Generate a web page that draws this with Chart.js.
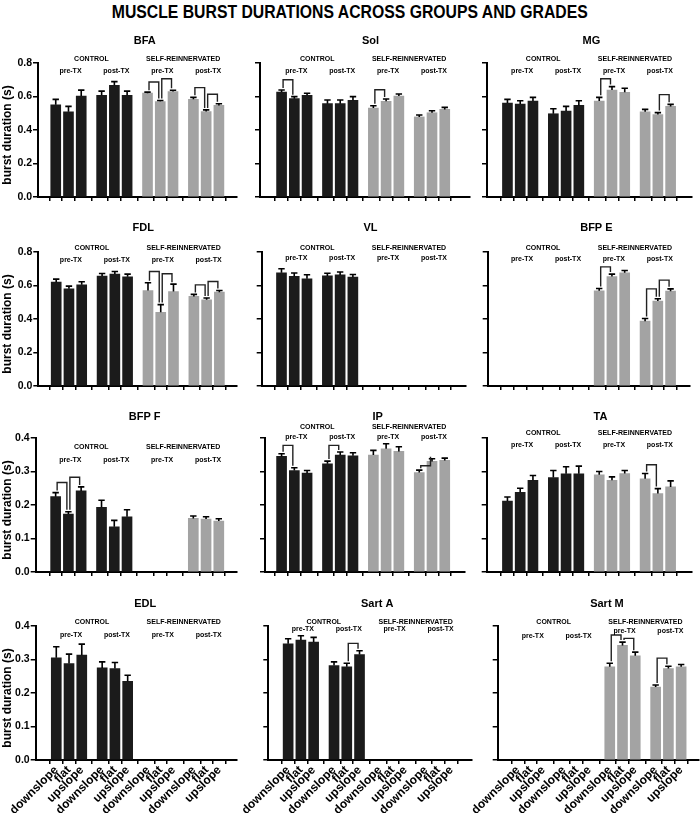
<!DOCTYPE html>
<html>
<head>
<meta charset="utf-8">
<script src="https://cdn.jsdelivr.net/npm/chart.js@4.4.1/dist/chart.umd.min.js"></script>
<style>
    body { margin: 0; background: #fff; }
    #page { position: relative; width: 700px; height: 813px; overflow: hidden; }
    #title { position: absolute; left: 0; top: 1px; width: 700px; text-align: center; line-height: 22px; }
    #titleText { display: inline-block; white-space: nowrap; font: bold 19px "Liberation Sans Narrow", "Liberation Sans", Arial, sans-serif; transform-origin: 50% 50%; }
    canvas { position: absolute; }
</style>
</head>
<body>
<div id="page">
    <div id="title"><span id="titleText">MUSCLE BURST DURATIONS ACROSS GROUPS AND GRADES</span></div>
</div>
<script>
// categories
const grades = ['downslope', 'flat', 'upslope'];
const groups = ['CONTROL', 'SELF-REINNERVATED'];
const phases = ['pre-TX', 'post-TX'];

// mean burst duration (s), order: control pre, control post, self pre, self post
const bfaMean = [0.551, 0.509, 0.603, 0.607, 0.667, 0.607, 0.62, 0.57, 0.63, 0.583, 0.51, 0.547];
const bfaSem = [0.032, 0.032, 0.035, 0.025, 0.022, 0.025, 0.006, 0.006, 0.007, 0.012, 0.01, 0.01];
const bfaSig = [[6, 7, 0.687], [7, 8, 0.706], [9, 10, 0.653], [10, 11, 0.613]];

const solMean = [0.627, 0.587, 0.607, 0.557, 0.557, 0.577, 0.531, 0.571, 0.603, 0.478, 0.503, 0.523];
const solSem = [0.012, 0.012, 0.012, 0.022, 0.022, 0.022, 0.014, 0.014, 0.012, 0.012, 0.012, 0.012];
const solSig = [[0, 1, 0.70], [6, 7, 0.64]];

const mgMean = [0.561, 0.555, 0.573, 0.497, 0.513, 0.547, 0.573, 0.639, 0.625, 0.509, 0.492, 0.541];
const mgSem = [0.022, 0.02, 0.022, 0.03, 0.028, 0.028, 0.022, 0.02, 0.024, 0.014, 0.012, 0.012];
const mgSig = [[6, 7, 0.706], [10, 11, 0.611]];

const fdlMean = [0.62, 0.58, 0.604, 0.656, 0.668, 0.652, 0.57, 0.44, 0.564, 0.535, 0.515, 0.56];
const fdlSem = [0.018, 0.016, 0.018, 0.016, 0.016, 0.016, 0.046, 0.046, 0.044, 0.012, 0.01, 0.01];
const fdlSig = [[6, 7, 0.684], [7, 8, 0.67], [9, 10, 0.604], [10, 11, 0.624]];

const vlMean = [0.676, 0.655, 0.64, 0.657, 0.663, 0.65, null, null, null, null, null, null];
const vlSem = [0.024, 0.02, 0.024, 0.016, 0.018, 0.016, null, null, null, null, null, null];
const vlSig = [];

const bfpeMean = [null, null, null, null, null, null, 0.568, 0.654, 0.676, 0.387, 0.507, 0.566];
const bfpeSem = [null, null, null, null, null, null, 0.014, 0.014, 0.014, 0.016, 0.014, 0.014];
const bfpeSig = [[6, 7, 0.711], [9, 10, 0.58], [10, 11, 0.632]];

const bfpfMean = [0.225, 0.173, 0.242, 0.193, 0.135, 0.165, null, null, null, 0.16, 0.158, 0.152];
const bfpfSem = [0.012, 0.007, 0.012, 0.021, 0.019, 0.021, null, null, null, 0.007, 0.007, 0.007];
const bfpfSig = [[0, 1, 0.267], [1, 2, 0.283]];

const ipMean = [0.345, 0.303, 0.295, 0.323, 0.349, 0.347, 0.349, 0.368, 0.36, 0.297, 0.33, 0.333];
const ipSem = [0.008, 0.008, 0.008, 0.008, 0.009, 0.009, 0.014, 0.015, 0.014, 0.007, 0.008, 0.007];
const ipSig = [[0, 1, 0.378], [3, 4, 0.378], [9, 10, 0.317]];

const taMean = [0.212, 0.238, 0.274, 0.282, 0.293, 0.293, 0.29, 0.274, 0.294, 0.278, 0.234, 0.254];
const taSem = [0.012, 0.012, 0.014, 0.021, 0.021, 0.023, 0.01, 0.01, 0.009, 0.016, 0.015, 0.018];
const taSig = [[9, 10, 0.32]];

const edlMean = [0.305, 0.288, 0.313, 0.275, 0.273, 0.235, null, null, null, null, null, null];
const edlSem = [0.033, 0.028, 0.033, 0.018, 0.018, 0.018, null, null, null, null, null, null];
const edlSig = [];

const sartaMean = [0.347, 0.358, 0.352, 0.282, 0.278, 0.315, null, null, null, null, null, null];
const sartaSem = [0.015, 0.013, 0.014, 0.011, 0.011, 0.011, null, null, null, null, null, null];
const sartaSig = [[4, 5, 0.348]];

const sartmMean = [null, null, null, null, null, null, 0.278, 0.342, 0.311, 0.218, 0.273, 0.278];
const sartmSem = [null, null, null, null, null, null, 0.011, 0.01, 0.011, 0.006, 0.007, 0.007];
const sartmSig = [[6, 7, 0.373], [7, 8, 0.363], [9, 10, 0.304]];

// y axis tick steps per row
const rowMax = [0.8, 0.8, 0.4, 0.4];
const rowStep = [0.2, 0.2, 0.1, 0.1];

// layout (pixels)
const rowTop = [62.7, 251.7, 438.3, 626];
const titleDy = [-21.7, -24, -21.5, -21.7];
const plotH = 134;
const headRoom = 46;
const colEdges = [0, 245, 475, 700];
const barSpan = 178;
const BLACK = '#1b1b1b';
const GRAY = '#a3a3a3';

// lab = [group label dy, control phase dy, self phase dy] from the plot top
const panels = [
    { name: 'BFA', mean: bfaMean, sem: bfaSem, sig: bfaSig, row: 0, col: 0, axisL: 38, bar0: 48.3, axisR: 237, lab: [-4, 8, 8], tdx: 0 },
    { name: 'Sol', mean: solMean, sem: solSem, sig: solSig, row: 0, col: 1, axisL: 260, bar0: 274, axisR: 470, lab: [-4, 8, 8], tdx: 0 },
    { name: 'MG', mean: mgMean, sem: mgSem, sig: mgSig, row: 0, col: 2, axisL: 487, bar0: 500, axisR: 692, lab: [-4, 8, 8], tdx: -5 },
    { name: 'FDL', mean: fdlMean, sem: fdlSem, sig: fdlSig, row: 1, col: 0, axisL: 38.3, bar0: 48.8, axisR: 237, lab: [-4, 8, 8], tdx: -2 },
    { name: 'VL', mean: vlMean, sem: vlSem, sig: vlSig, row: 1, col: 1, axisL: 261.7, bar0: 274, axisR: 466, lab: [-4.4, 6, 6], tdx: 0 },
    { name: 'BFP E', mean: bfpeMean, sem: bfpeSem, sig: bfpeSig, row: 1, col: 2, axisL: 487.7, bar0: 500, axisR: 690, lab: [-4, 7, 7], tdx: 0 },
    { name: 'BFP F', mean: bfpfMean, sem: bfpfSem, sig: bfpfSig, row: 2, col: 0, axisL: 35.7, bar0: 48.3, axisR: 237, lab: [9, 22, 22], tdx: 0 },
    { name: 'IP', mean: ipMean, sem: ipSem, sig: ipSig, row: 2, col: 1, axisL: 265, bar0: 274, axisR: 465, lab: [-10.5, -0.5, -0.5], tdx: 7 },
    { name: 'TA', mean: taMean, sem: taSem, sig: taSig, row: 2, col: 2, axisL: 486.7, bar0: 500, axisR: 692, lab: [-4.5, 7.5, 7.5], tdx: 4 },
    { name: 'EDL', mean: edlMean, sem: edlSem, sig: edlSig, row: 3, col: 0, axisL: 35.7, bar0: 49, axisR: 237, lab: [-3.5, 9.5, 9.5], tdx: 0 },
    { name: 'Sart A', mean: sartaMean, sem: sartaSem, sig: sartaSig, row: 3, col: 1, axisL: 268.3, bar0: 280.7, axisR: 471.7, lab: [-3.7, 3.5, 3.5], tdx: 0 },
    { name: 'Sart M', mean: sartmMean, sem: sartmSem, sig: sartmSig, row: 3, col: 2, axisL: 497.7, bar0: 510.7, axisR: 698.3, lab: [-3.7, 10, 5], tdx: 0 }
];

Chart.defaults.font.family = '"Liberation Sans", Arial, sans-serif';
Chart.defaults.color = '#000';

// category index -> slot on the x scale (groups of three with a gap)
function slot(k) {
    return k + Math.floor(k / 3) * 0.6;
}

const overlayPlugin = {
    id: 'overlay',
    afterDatasetsDraw(chart) {
        const p = chart.options.plugins.overlay.panel;
        const ctx = chart.ctx;
        const xs = chart.scales.x;
        const ys = chart.scales.y;
        const top = chart.chartArea.top;

        // error bars (upper half only)
        ctx.save();
        ctx.strokeStyle = '#000';
        ctx.lineWidth = 1.6;
        p.mean.forEach((v, k) => {
            if (v === null) return;
            const x = xs.getPixelForValue(slot(k));
            const y0 = ys.getPixelForValue(v);
            const y1 = ys.getPixelForValue(v + p.sem[k]);
            ctx.beginPath();
            ctx.moveTo(x, y0);
            ctx.lineTo(x, y1);
            ctx.moveTo(x - 3.2, y1);
            ctx.lineTo(x + 3.2, y1);
            ctx.stroke();
        });

        // significance brackets
        ctx.strokeStyle = '#222';
        ctx.lineWidth = 1.4;
        p.sig.forEach(([a, b, level]) => {
            const xa = xs.getPixelForValue(slot(a)) + 1.5;
            const xb = xs.getPixelForValue(slot(b)) - 1.5;
            const ya = ys.getPixelForValue(p.mean[a] + p.sem[a]) - 2;
            const yb = ys.getPixelForValue(p.mean[b] + p.sem[b]) - 2;
            const yl = ys.getPixelForValue(level);
            ctx.beginPath();
            ctx.moveTo(xa, ya);
            ctx.lineTo(xa, yl);
            ctx.lineTo(xb, yl);
            ctx.lineTo(xb, yb);
            ctx.stroke();
        });

        // panel title
        ctx.fillStyle = '#000';
        ctx.textAlign = 'center';
        ctx.textBaseline = 'middle';
        ctx.font = 'bold 11px "Liberation Sans", Arial, sans-serif';
        const mid = xs.getPixelForValue(slot(0)) + barSpan / 2;
        ctx.fillText(p.name, mid + p.tdx, top + titleDy[p.row]);

        // group and phase labels
        ctx.font = 'bold 7px "Liberation Sans", Arial, sans-serif';
        groups.forEach((g, gi) => {
            const gx = (xs.getPixelForValue(slot(gi * 6)) + xs.getPixelForValue(slot(gi * 6 + 5))) / 2;
            ctx.fillText(g, gx, top + p.lab[0]);
            phases.forEach((ph, pi) => {
                const fx = xs.getPixelForValue(slot(gi * 6 + pi * 3 + 1)) + 2;
                ctx.fillText(ph, fx, top + p.lab[1 + gi]);
            });
        });

        // y axis title on the first column
        if (p.col === 0) {
            ctx.font = 'bold 12px "Liberation Sans", Arial, sans-serif';
            ctx.translate(7.5, top + plotH / 2 + 5);
            ctx.rotate(-Math.PI / 2);
            ctx.fillText('burst duration (s)', 0, 0);
        }
        ctx.restore();
    }
};

const page = document.getElementById('page');

panels.forEach(p => {
    // canvases of the inner columns reach a bit left so rotated labels are not clipped
    const cx0 = colEdges[p.col] - (p.col > 0 ? 30 : 0);
    const cx1 = colEdges[p.col + 1];
    const canvasTop = rowTop[p.row] - headRoom;
    const canvasBottom = p.row === 3 ? 813 : rowTop[p.row] + plotH + 10;
    const h = Math.round(canvasBottom - canvasTop);

    const cv = document.createElement('canvas');
    cv.width = cx1 - cx0;
    cv.height = h;
    cv.style.left = cx0 + 'px';
    cv.style.top = canvasTop + 'px';
    page.appendChild(cv);

    const unit = barSpan / slot(11);
    const positions = p.mean.map((v, k) => slot(k));

    new Chart(cv.getContext('2d'), {
        type: 'bar',
        data: {
            datasets: [{
                data: p.mean.map((v, k) => ({ x: slot(k), y: v })),
                backgroundColor: p.mean.map((v, k) => (k < 6 ? BLACK : GRAY)),
                barThickness: 10,
                borderWidth: 0
            }]
        },
        options: {
            responsive: false,
            animation: false,
            layout: { padding: { top: headRoom, right: cx1 - p.axisR, left: 0, bottom: 0 } },
            plugins: {
                legend: { display: false },
                tooltip: { enabled: false },
                overlay: { panel: p }
            },
            scales: {
                x: {
                    type: 'linear',
                    min: -(p.bar0 - p.axisL) / unit,
                    max: slot(11) + (p.axisR - p.bar0 - barSpan) / unit,
                    afterBuildTicks: s => { s.ticks = positions.map(v => ({ value: v })); },
                    afterFit: s => {
                        s.height = h - headRoom - plotH;
                        s.paddingLeft = 0;
                        s.paddingRight = 0;
                    },
                    grid: { drawOnChartArea: false, drawTicks: true, tickLength: 4, color: '#000', lineWidth: 1.5 },
                    border: { display: true, color: '#000', width: 2 },
                    ticks: {
                        display: p.row === 3,
                        autoSkip: false,
                        minRotation: 45,
                        maxRotation: 45,
                        padding: -1,
                        font: { size: 12, weight: 'bold' },
                        callback: (v, i) => grades[i % 3]
                    }
                },
                y: {
                    min: 0,
                    max: rowMax[p.row],
                    afterFit: s => {
                        s.width = p.axisL - cx0;
                        s.paddingTop = 0;
                        s.paddingBottom = 0;
                    },
                    grid: { drawOnChartArea: false, drawTicks: true, tickLength: 5, color: '#000', lineWidth: 1.5 },
                    border: { display: true, color: '#000', width: 2 },
                    ticks: {
                        display: p.col === 0,
                        stepSize: rowStep[p.row],
                        padding: 1,
                        font: { size: 10.5, weight: 'bold' },
                        callback: v => v.toFixed(1)
                    }
                }
            }
        },
        plugins: [overlayPlugin]
    });
});

// squeeze the headline to the reference width
const tt = document.getElementById('titleText');
const tw = tt.getBoundingClientRect().width;
tt.style.transform = 'scaleX(' + (476 / tw) + ')';
</script>
</body>
</html>
